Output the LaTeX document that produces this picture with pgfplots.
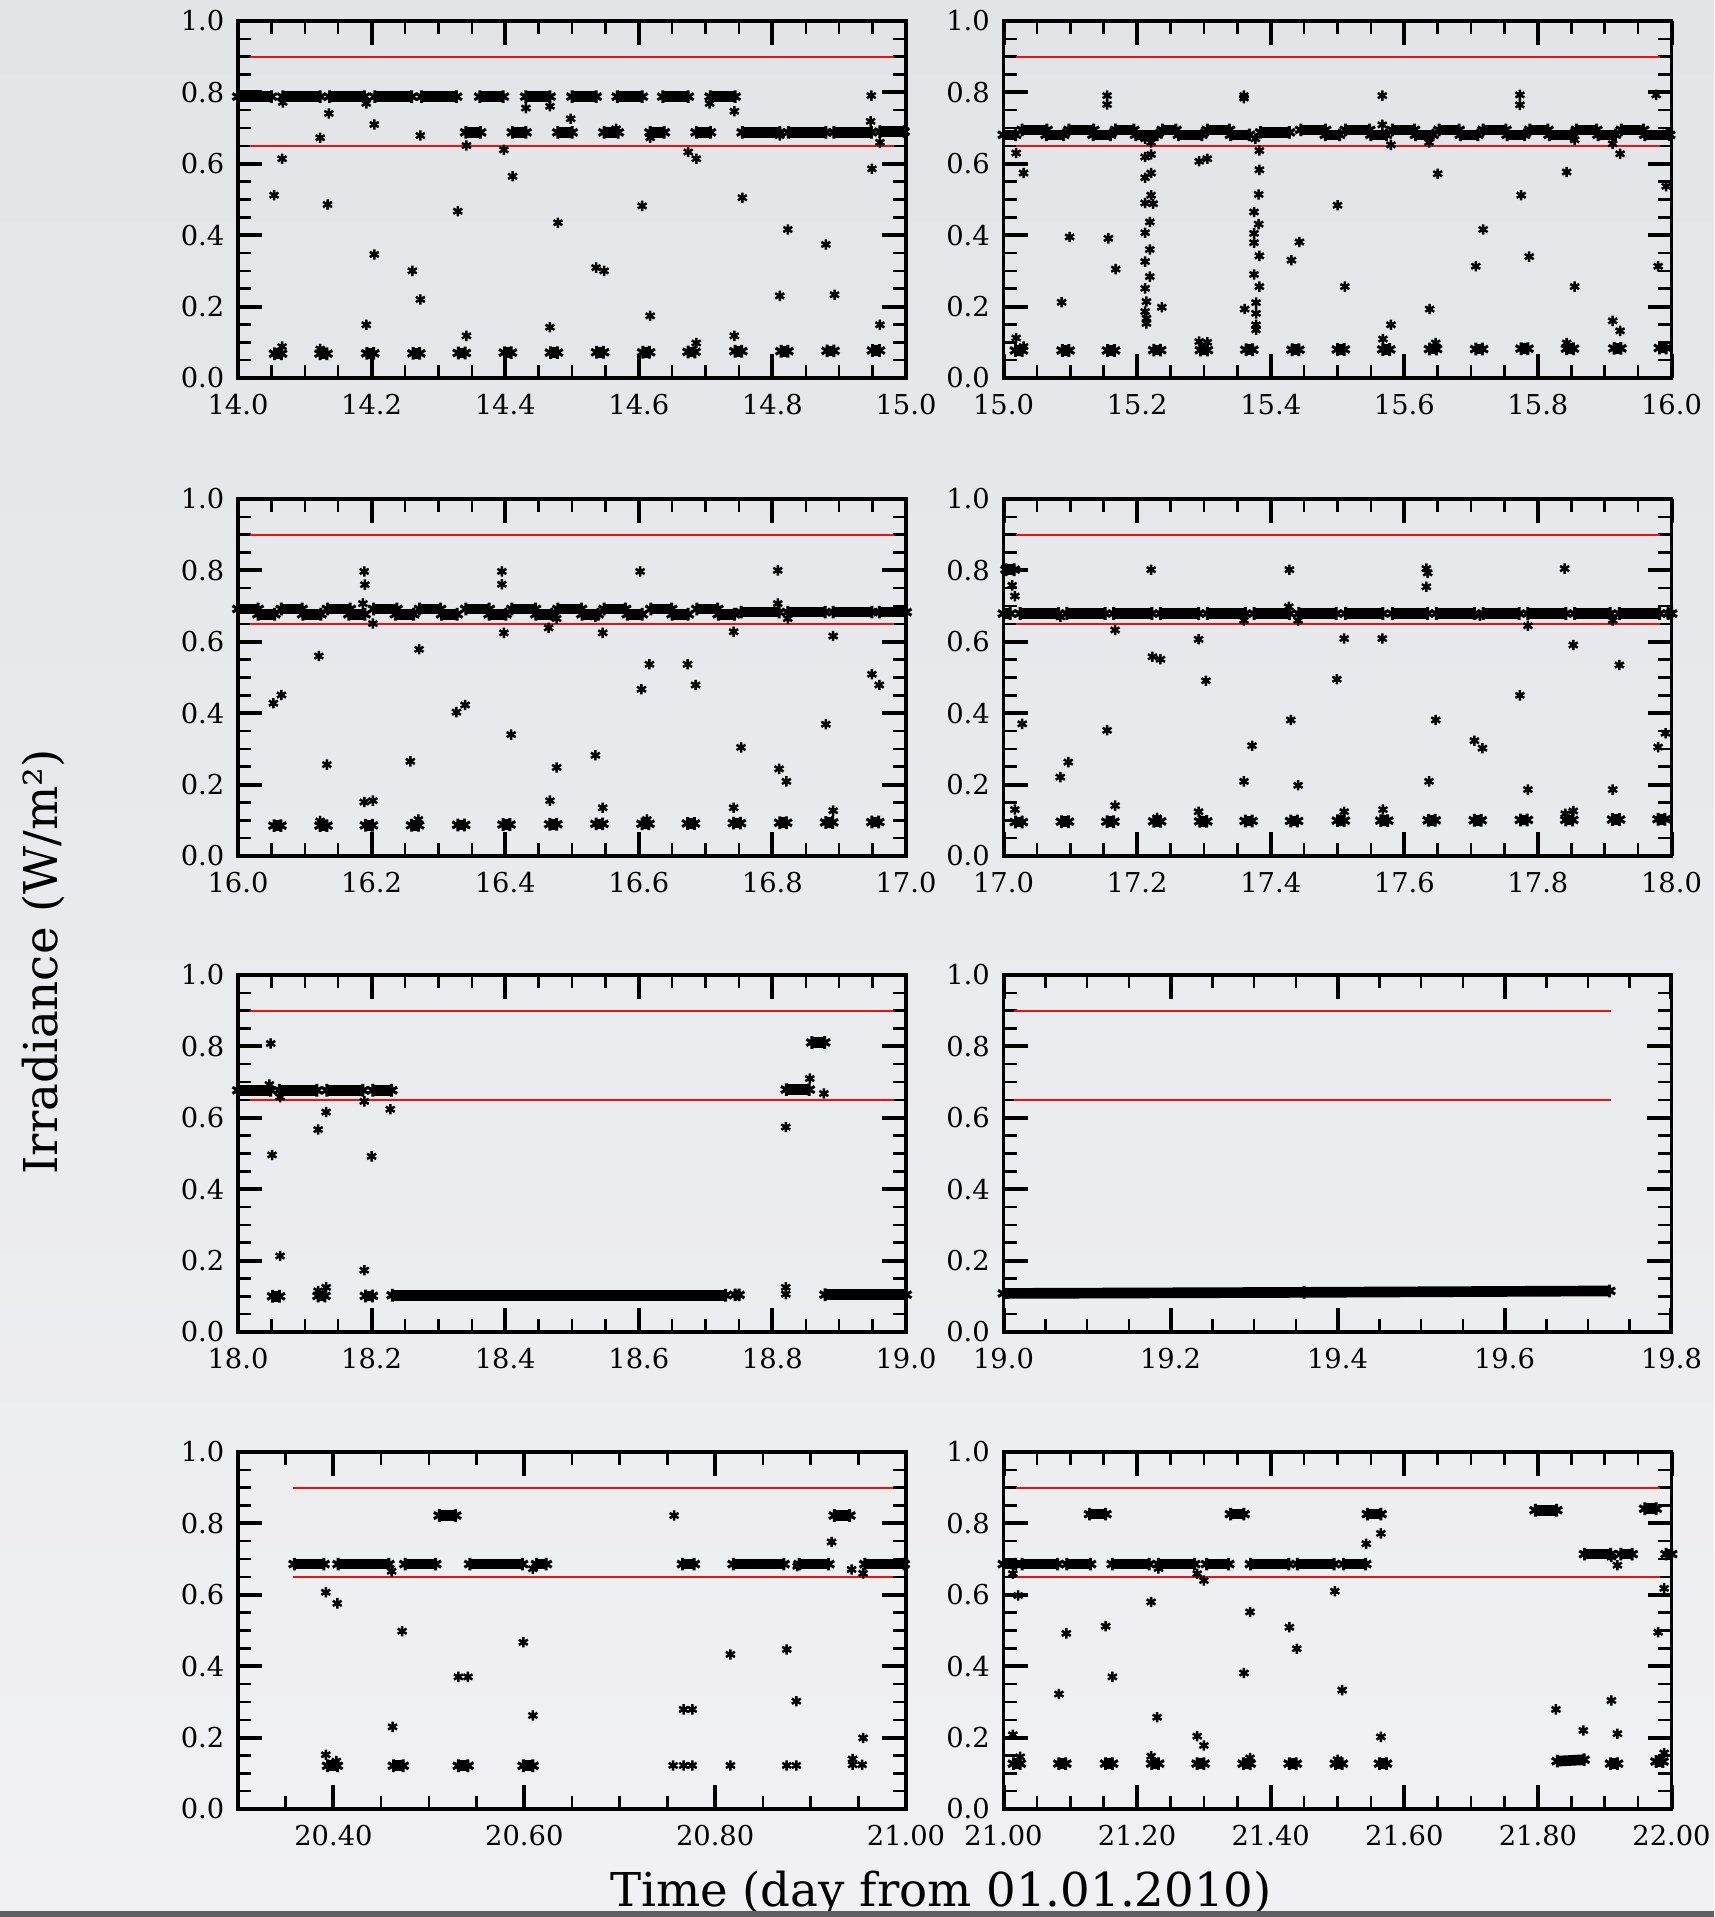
\documentclass[border=0pt]{standalone}
\usepackage{fontspec}
\setmainfont{DejaVu Serif}
\usepackage{pgfplots}
\pgfplotsset{compat=1.18}
\definecolor{bgtop}{RGB}{226,228,232}
\definecolor{bgbot}{RGB}{241,241,243}
\definecolor{redline}{RGB}{232,18,18}
\definecolor{barc}{RGB}{95,95,95}
\pgfplotsset{
  panel/.style={
    scale only axis, width=200.4pt, height=107.1pt, anchor=south west,
    ymin=0, ymax=1, ytick={0,0.2,0.4,0.6,0.8,1}, minor y tick num=3,
    tick pos=both, tick align=inside,
    axis line style={line width=1.15pt},
    major tick length=7.2pt, minor tick length=4.0pt,
    every major tick/.append style={line width=1.2pt, black},
    every minor tick/.append style={line width=0.75pt, black},
    ticklabel style={font=\fontsize{8.2}{9}\selectfont},
    xticklabel style={yshift=-1.2pt},
    yticklabel style={xshift=-0.6pt},
    /pgf/number format/assume math mode=true,
    yticklabel style={/pgf/number format/fixed, /pgf/number format/fixed zerofill, /pgf/number format/precision=1},
    clip=false, unbounded coords=jump,
  },
  xp1/.style={xticklabel style={/pgf/number format/fixed, /pgf/number format/fixed zerofill, /pgf/number format/precision=1}},
  xp2/.style={xticklabel style={/pgf/number format/fixed, /pgf/number format/fixed zerofill, /pgf/number format/precision=2}},
  band/.style={black, solid, line width=3.2pt, mark=asterisk, mark size=1.9pt, mark options={line width=0.9pt, solid}},
  pts/.style={only marks, black, mark=asterisk, mark size=1.55pt, mark options={line width=0.75pt, solid}},
  lim/.style={redline, line width=0.6pt, no marks},
}
\begin{document}
\begin{tikzpicture}
\useasboundingbox (0,0) rectangle (514.2pt,575.1pt);
\shade[top color=bgtop, bottom color=bgbot] (0,0) rectangle (514.2pt,575.1pt);

% ---------------- Panel 1 ----------------
\begin{axis}[panel, xp1, at={(71.4pt,461.7pt)}, xmin=14, xmax=15, xtick={14,14.2,14.4,14.6,14.8,15}, minor x tick num=3]
\addplot[lim] coordinates {(14.018,0.9)(14.982,0.9)};
\addplot[lim] coordinates {(14.018,0.65)(14.982,0.65)};
\addplot[band] coordinates {(14.0,0.788)(14.050,0.788)(14.06,nan)(14.067,0.788)(14.123,0.788)(14.13,nan)(14.137,0.788)(14.189,0.788)(14.2,nan)(14.205,0.788)(14.260,0.788)(14.27,nan)(14.275,0.788)(14.327,0.788)(14.34,nan)(14.362,0.788)(14.397,0.788)(14.41,nan)(14.431,0.788)(14.467,0.788)(14.48,nan)(14.500,0.788)(14.536,0.788)(14.55,nan)(14.568,0.788)(14.605,0.788)(14.62,nan)(14.636,0.788)(14.674,0.788)(14.69,nan)(14.707,0.788)(14.744,0.788)};
\addplot[band] coordinates {(14.341,0.688)(14.363,0.688)(14.38,nan)(14.411,0.688)(14.431,0.688)(14.45,nan)(14.479,0.688)(14.500,0.688)(14.52,nan)(14.548,0.688)(14.569,0.688)(14.59,nan)(14.617,0.688)(14.638,0.688)(14.66,nan)(14.686,0.688)(14.707,0.688)(14.73,nan)(14.755,0.688)(14.811,0.688)(14.815,nan)(14.824,0.688)(14.880,0.688)(14.885,nan)(14.892,0.688)(14.948,0.688)(14.955,nan)(14.961,0.690)(14.997,0.690)};
\addplot[band] coordinates {(14.055,0.068)(14.065,0.068)(14.09,nan)(14.123,0.068)(14.133,0.068)(14.16,nan)(14.193,0.069)(14.203,0.069)(14.23,nan)(14.262,0.069)(14.272,0.069)(14.3,nan)(14.330,0.070)(14.340,0.070)(14.37,nan)(14.399,0.071)(14.409,0.071)(14.44,nan)(14.468,0.071)(14.478,0.071)(14.5,nan)(14.537,0.072)(14.547,0.072)(14.57,nan)(14.606,0.072)(14.616,0.072)(14.64,nan)(14.674,0.073)(14.684,0.073)(14.71,nan)(14.744,0.075)(14.754,0.075)(14.78,nan)(14.813,0.075)(14.823,0.075)(14.85,nan)(14.882,0.076)(14.892,0.076)(14.92,nan)(14.950,0.077)(14.960,0.077)};
\addplot[pts] coordinates {(14.067,0.772)(14.054,0.512)(14.066,0.614)(14.066,0.088)(14.123,0.673)(14.136,0.741)(14.134,0.486)(14.123,0.081)(14.192,0.769)(14.204,0.710)(14.204,0.346)(14.192,0.149)(14.261,0.300)(14.273,0.220)(14.273,0.679)(14.329,0.467)(14.342,0.651)(14.342,0.118)(14.398,0.639)(14.411,0.565)(14.431,0.756)(14.467,0.761)(14.467,0.142)(14.498,0.726)(14.479,0.435)(14.536,0.309)(14.548,0.300)(14.566,0.698)(14.605,0.482)(14.617,0.673)(14.617,0.174)(14.674,0.633)(14.686,0.614)(14.686,0.098)(14.706,0.769)(14.743,0.747)(14.743,0.118)(14.755,0.505)(14.811,0.679)(14.823,0.416)(14.811,0.230)(14.880,0.374)(14.893,0.233)(14.948,0.791)(14.947,0.719)(14.949,0.586)(14.961,0.660)(14.961,0.149)};
\end{axis}

% ---------------- Panel 2 ----------------
\begin{axis}[panel, xp1, at={(301.05pt,461.7pt)}, xmin=15, xmax=16, xtick={15,15.2,15.4,15.6,15.8,16}, minor x tick num=3]
\addplot[lim] coordinates {(15.018,0.9)(15.982,0.9)};
\addplot[lim] coordinates {(15.018,0.65)(15.982,0.65)};
\addplot[band] coordinates {(15.028,0.695)(15.065,0.695)(15.08,nan)(15.098,0.695)(15.135,0.695)(15.15,nan)(15.168,0.695)(15.195,0.695)(15.21,nan)(15.238,0.695)(15.258,0.695)(15.28,nan)(15.305,0.695)(15.338,0.695)(15.4,nan)(15.445,0.695)(15.482,0.695)(15.49,nan)(15.512,0.695)(15.548,0.695)(15.56,nan)(15.582,0.695)(15.615,0.695)(15.63,nan)(15.652,0.695)(15.682,0.695)(15.7,nan)(15.718,0.695)(15.752,0.695)(15.77,nan)(15.788,0.695)(15.815,0.695)(15.83,nan)(15.858,0.695)(15.888,0.695)(15.9,nan)(15.925,0.695)(15.958,0.695)};
\addplot[band] coordinates {(15.0,0.681)(15.018,0.681)(15.04,nan)(15.064,0.681)(15.090,0.681)(15.11,nan)(15.134,0.681)(15.160,0.681)(15.18,nan)(15.198,0.681)(15.230,0.681)(15.24,nan)(15.262,0.681)(15.297,0.681)(15.32,nan)(15.340,0.681)(15.368,0.681)(15.375,nan)(15.385,0.688)(15.428,0.688)(15.45,nan)(15.482,0.681)(15.503,0.681)(15.52,nan)(15.550,0.681)(15.573,0.681)(15.59,nan)(15.617,0.681)(15.643,0.681)(15.66,nan)(15.684,0.681)(15.710,0.681)(15.73,nan)(15.754,0.681)(15.780,0.681)(15.8,nan)(15.817,0.681)(15.850,0.681)(15.87,nan)(15.890,0.681)(15.916,0.681)(15.94,nan)(15.960,0.681)(15.997,0.681)};
\addplot[band] coordinates {(15.018,0.077)(15.028,0.077)(15.05,nan)(15.088,0.077)(15.098,0.077)(15.12,nan)(15.156,0.077)(15.166,0.077)(15.19,nan)(15.225,0.078)(15.235,0.078)(15.26,nan)(15.295,0.078)(15.305,0.078)(15.33,nan)(15.363,0.079)(15.373,0.079)(15.4,nan)(15.432,0.079)(15.442,0.079)(15.47,nan)(15.500,0.080)(15.510,0.080)(15.54,nan)(15.568,0.080)(15.578,0.080)(15.6,nan)(15.638,0.081)(15.648,0.081)(15.67,nan)(15.707,0.081)(15.717,0.081)(15.74,nan)(15.775,0.082)(15.785,0.082)(15.81,nan)(15.843,0.082)(15.853,0.082)(15.88,nan)(15.914,0.083)(15.924,0.083)(15.95,nan)(15.982,0.084)(15.992,0.084)};
\addplot[pts] coordinates {(15.019,0.630)(15.030,0.574)(15.019,0.112)(15.030,0.088)(15.087,0.212)(15.099,0.395)(15.155,0.791)(15.155,0.766)(15.157,0.391)(15.168,0.305)
(15.212,0.670)(15.221,0.660)(15.212,0.619)(15.221,0.626)(15.212,0.561)(15.221,0.574)(15.221,0.512)(15.212,0.490)(15.224,0.488)(15.219,0.437)(15.212,0.407)(15.219,0.360)(15.212,0.326)(15.219,0.284)(15.212,0.251)(15.214,0.214)(15.212,0.186)(15.214,0.167)(15.214,0.153)
(15.237,0.198)(15.293,0.607)(15.305,0.614)(15.293,0.102)(15.305,0.100)(15.360,0.791)(15.360,0.784)
(15.377,0.670)(15.383,0.637)(15.383,0.583)(15.382,0.514)(15.375,0.465)(15.382,0.431)(15.375,0.405)(15.375,0.379)(15.383,0.342)(15.375,0.290)(15.383,0.256)(15.378,0.211)(15.378,0.181)(15.378,0.149)(15.378,0.135)
(15.361,0.193)(15.431,0.330)(15.443,0.381)(15.500,0.484)(15.511,0.256)(15.567,0.791)(15.567,0.709)(15.580,0.653)(15.580,0.149)(15.568,0.109)(15.637,0.660)(15.650,0.572)(15.638,0.193)(15.647,0.098)(15.707,0.313)(15.718,0.416)(15.773,0.793)(15.773,0.765)(15.775,0.512)(15.787,0.340)(15.843,0.577)(15.855,0.256)(15.843,0.098)(15.855,0.667)(15.912,0.160)(15.923,0.132)(15.912,0.656)(15.923,0.628)(15.977,0.793)(15.992,0.537)(15.980,0.313)(15.993,0.686)};
\end{axis}

% ---------------- Panel 3 ----------------
\begin{axis}[panel, xp1, at={(71.4pt,318.3pt)}, xmin=16, xmax=17, xtick={16,16.2,16.4,16.6,16.8,17}, minor x tick num=3]
\addplot[lim] coordinates {(16.018,0.9)(16.982,0.9)};
\addplot[lim] coordinates {(16.018,0.65)(16.982,0.65)};
\addplot[band] coordinates {(16.0,0.692)(16.030,0.692)(16.05,nan)(16.065,0.692)(16.096,0.692)(16.11,nan)(16.134,0.692)(16.168,0.692)(16.18,nan)(16.203,0.692)(16.238,0.692)(16.25,nan)(16.272,0.692)(16.303,0.692)(16.32,nan)(16.341,0.692)(16.376,0.692)(16.39,nan)(16.410,0.692)(16.445,0.692)(16.46,nan)(16.479,0.692)(16.514,0.692)(16.53,nan)(16.548,0.692)(16.580,0.692)(16.6,nan)(16.618,0.692)(16.649,0.692)(16.66,nan)(16.687,0.692)(16.718,0.692)};
\addplot[band] coordinates {(16.030,0.677)(16.055,0.677)(16.08,nan)(16.097,0.677)(16.124,0.677)(16.15,nan)(16.166,0.677)(16.190,0.677)(16.21,nan)(16.236,0.677)(16.263,0.677)(16.28,nan)(16.305,0.677)(16.328,0.677)(16.35,nan)(16.376,0.677)(16.401,0.677)(16.42,nan)(16.446,0.677)(16.470,0.677)(16.49,nan)(16.515,0.677)(16.539,0.677)(16.56,nan)(16.583,0.677)(16.605,0.677)(16.63,nan)(16.650,0.677)(16.674,0.677)(16.7,nan)(16.719,0.677)(16.743,0.677)(16.748,nan)(16.753,0.683)(16.810,0.683)(16.815,nan)(16.823,0.683)(16.879,0.683)(16.885,nan)(16.891,0.683)(16.949,0.683)(16.955,nan)(16.960,0.683)(17.0,0.683)};
\addplot[band] coordinates {(16.054,0.085)(16.064,0.085)(16.09,nan)(16.123,0.085)(16.133,0.085)(16.16,nan)(16.191,0.086)(16.201,0.086)(16.23,nan)(16.260,0.086)(16.270,0.086)(16.3,nan)(16.329,0.087)(16.339,0.087)(16.37,nan)(16.397,0.088)(16.407,0.088)(16.44,nan)(16.467,0.089)(16.477,0.089)(16.5,nan)(16.536,0.090)(16.546,0.090)(16.58,nan)(16.605,0.090)(16.615,0.090)(16.64,nan)(16.673,0.091)(16.683,0.091)(16.71,nan)(16.742,0.092)(16.752,0.092)(16.78,nan)(16.811,0.093)(16.821,0.093)(16.85,nan)(16.880,0.094)(16.890,0.094)(16.92,nan)(16.949,0.095)(16.959,0.095)};
\addplot[pts] coordinates {(16.053,0.428)(16.065,0.451)(16.121,0.560)(16.133,0.256)(16.123,0.098)(16.189,0.797)(16.190,0.760)(16.187,0.707)(16.202,0.651)(16.189,0.151)(16.202,0.155)(16.271,0.579)(16.258,0.265)(16.270,0.102)(16.327,0.403)(16.340,0.423)(16.395,0.797)(16.395,0.761)(16.398,0.625)(16.409,0.340)(16.465,0.639)(16.477,0.665)(16.467,0.155)(16.477,0.248)(16.535,0.282)(16.546,0.625)(16.546,0.135)(16.535,0.670)(16.602,0.797)(16.604,0.467)(16.616,0.537)(16.612,0.102)(16.673,0.537)(16.685,0.479)(16.742,0.628)(16.753,0.304)(16.742,0.135)(16.808,0.800)(16.808,0.707)(16.810,0.244)(16.821,0.209)(16.823,0.665)(16.880,0.369)(16.891,0.616)(16.891,0.127)(16.949,0.509)(16.960,0.479)};
\end{axis}

% ---------------- Panel 4 ----------------
\begin{axis}[panel, xp1, at={(301.05pt,318.3pt)}, xmin=17, xmax=18, xtick={17,17.2,17.4,17.6,17.8,18}, minor x tick num=3]
\addplot[lim] coordinates {(17.018,0.9)(17.982,0.9)};
\addplot[lim] coordinates {(17.018,0.65)(17.982,0.65)};
\addplot[band] coordinates {(17.0,0.679)(17.010,0.679)(17.02,nan)(17.025,0.679)(17.082,0.679)(17.09,nan)(17.095,0.679)(17.152,0.679)(17.16,nan)(17.165,0.679)(17.222,0.679)(17.23,nan)(17.235,0.679)(17.292,0.679)(17.3,nan)(17.305,0.679)(17.362,0.679)(17.37,nan)(17.375,0.679)(17.428,0.679)(17.435,nan)(17.442,0.679)(17.498,0.679)(17.505,nan)(17.512,0.679)(17.568,0.679)(17.575,nan)(17.582,0.679)(17.635,0.679)(17.64,nan)(17.648,0.679)(17.705,0.679)(17.71,nan)(17.718,0.679)(17.772,0.679)(17.78,nan)(17.785,0.679)(17.842,0.679)(17.85,nan)(17.855,0.679)(17.908,0.679)(17.915,nan)(17.922,0.679)(17.982,0.679)(17.99,nan)(17.995,0.679)(18.0,0.679)};
\addplot[band] coordinates {(17.004,0.802)(17.016,0.802)};
\addplot[band] coordinates {(17.018,0.095)(17.028,0.095)(17.05,nan)(17.087,0.096)(17.097,0.096)(17.12,nan)(17.155,0.096)(17.165,0.096)(17.19,nan)(17.225,0.097)(17.235,0.097)(17.26,nan)(17.294,0.097)(17.304,0.097)(17.33,nan)(17.362,0.098)(17.372,0.098)(17.4,nan)(17.430,0.098)(17.440,0.098)(17.47,nan)(17.500,0.099)(17.510,0.099)(17.54,nan)(17.565,0.099)(17.575,0.099)(17.6,nan)(17.636,0.100)(17.646,0.100)(17.67,nan)(17.705,0.100)(17.715,0.100)(17.74,nan)(17.774,0.101)(17.784,0.101)(17.81,nan)(17.842,0.101)(17.852,0.101)(17.88,nan)(17.912,0.102)(17.922,0.102)(17.95,nan)(17.980,0.103)(17.990,0.103)};
\addplot[pts] coordinates {(17.013,0.758)(17.017,0.728)(17.028,0.370)(17.017,0.130)(17.085,0.221)(17.097,0.263)(17.085,0.670)(17.155,0.352)(17.167,0.633)(17.167,0.141)(17.221,0.802)(17.223,0.558)(17.235,0.551)(17.230,0.107)(17.292,0.607)(17.303,0.491)(17.292,0.124)(17.360,0.209)(17.372,0.309)(17.360,0.660)(17.428,0.802)(17.427,0.698)(17.430,0.381)(17.441,0.198)(17.441,0.660)(17.499,0.495)(17.510,0.609)(17.510,0.124)(17.567,0.609)(17.568,0.130)(17.633,0.805)(17.635,0.793)(17.633,0.754)(17.637,0.209)(17.647,0.381)(17.705,0.323)(17.717,0.302)(17.713,0.673)(17.773,0.450)(17.785,0.186)(17.785,0.645)(17.840,0.805)(17.853,0.591)(17.841,0.118)(17.853,0.126)(17.912,0.186)(17.922,0.535)(17.912,0.660)(17.980,0.305)(17.991,0.344)};
\end{axis}

% ---------------- Panel 5 ----------------
\begin{axis}[panel, xp1, at={(71.4pt,175.5pt)}, xmin=18, xmax=19, xtick={18,18.2,18.4,18.6,18.8,19}, minor x tick num=3]
\addplot[lim] coordinates {(18.018,0.9)(18.982,0.9)};
\addplot[lim] coordinates {(18.018,0.65)(18.982,0.65)};
\addplot[band] coordinates {(18.0,0.677)(18.049,0.677)(18.055,nan)(18.062,0.677)(18.118,0.677)(18.125,nan)(18.133,0.677)(18.187,0.677)(18.195,nan)(18.202,0.677)(18.230,0.677)(18.5,nan)(18.821,0.679)(18.855,0.679)};
\addplot[band] coordinates {(18.859,0.811)(18.878,0.811)};
\addplot[band] coordinates {(18.231,0.103)(18.730,0.103)(18.74,nan)(18.744,0.104)(18.750,0.104)(18.8,nan)(18.879,0.1045)(19.0,0.1045)};
\addplot[band] coordinates {(18.052,0.100)(18.062,0.100)(18.09,nan)(18.120,0.101)(18.130,0.101)(18.16,nan)(18.191,0.101)(18.201,0.101)};
\addplot[pts] coordinates {(18.049,0.808)(18.047,0.693)(18.051,0.496)(18.063,0.213)(18.063,0.658)(18.120,0.567)(18.132,0.616)(18.120,0.115)(18.132,0.125)(18.189,0.646)(18.200,0.492)(18.189,0.173)(18.228,0.624)(18.820,0.574)(18.820,0.125)(18.820,0.106)(18.856,0.710)(18.877,0.668)};
\end{axis}

% ---------------- Panel 6 ----------------
\begin{axis}[panel, xp1, at={(301.05pt,175.5pt)}, xmin=19, xmax=19.8, xtick={19,19.2,19.4,19.6,19.8}, minor x tick num=3]
\addplot[lim] coordinates {(19.013,0.9)(19.728,0.9)};
\addplot[lim] coordinates {(19.013,0.65)(19.728,0.65)};
\addplot[band] coordinates {(19.0,0.108)(19.36,0.111)(19.726,0.115)};
\end{axis}

% ---------------- Panel 7 ----------------
\begin{axis}[panel, xp2, at={(71.4pt,32.4pt)}, xmin=20.3, xmax=21, xtick={20.4,20.6,20.8,21}, minor xtick={20.35,20.45,20.5,20.55,20.65,20.7,20.75,20.85,20.9,20.95}]
\addplot[lim] coordinates {(20.358,0.9)(20.986,0.9)};
\addplot[lim] coordinates {(20.358,0.65)(20.986,0.65)};
\addplot[band] coordinates {(20.359,0.686)(20.390,0.686)(20.398,nan)(20.405,0.686)(20.458,0.686)(20.465,nan)(20.475,0.686)(20.507,0.686)(20.52,nan)(20.543,0.686)(20.598,0.686)(20.605,nan)(20.613,0.686)(20.623,0.686)(20.7,nan)(20.766,0.686)(20.778,0.686)(20.8,nan)(20.819,0.686)(20.872,0.686)(20.88,nan)(20.888,0.686)(20.919,0.686)(20.94,nan)(20.957,0.686)(20.998,0.686)};
\addplot[band] coordinates {(20.511,0.822)(20.528,0.822)(20.7,nan)(20.925,0.822)(20.941,0.822)};
\addplot[band] coordinates {(20.394,0.121)(20.404,0.121)(20.43,nan)(20.463,0.121)(20.473,0.121)(20.5,nan)(20.531,0.121)(20.541,0.121)(20.57,nan)(20.599,0.121)(20.609,0.121)};
\addplot[pts] coordinates {(20.392,0.607)(20.404,0.576)(20.392,0.152)(20.403,0.134)(20.461,0.666)(20.472,0.498)(20.462,0.230)(20.531,0.370)(20.541,0.370)(20.599,0.467)(20.609,0.262)(20.609,0.673)(20.757,0.822)(20.767,0.279)(20.776,0.279)(20.756,0.122)(20.767,0.122)(20.776,0.122)(20.816,0.433)(20.816,0.122)(20.875,0.447)(20.885,0.302)(20.875,0.122)(20.885,0.122)(20.886,0.680)(20.922,0.748)(20.943,0.671)(20.955,0.660)(20.955,0.199)(20.944,0.140)(20.944,0.124)(20.954,0.124)};
\end{axis}

% ---------------- Panel 8 ----------------
\begin{axis}[panel, xp2, at={(301.05pt,32.4pt)}, xmin=21, xmax=22, xtick={21,21.2,21.4,21.6,21.8,22}, minor x tick num=3]
\addplot[lim] coordinates {(21.018,0.9)(21.982,0.9)};
\addplot[lim] coordinates {(21.018,0.65)(21.982,0.65)};
\addplot[band] coordinates {(21.0,0.686)(21.018,0.686)(21.023,nan)(21.028,0.686)(21.081,0.686)(21.088,nan)(21.095,0.686)(21.130,0.686)(21.15,nan)(21.163,0.686)(21.218,0.686)(21.225,nan)(21.232,0.686)(21.286,0.686)(21.295,nan)(21.304,0.686)(21.337,0.686)(21.35,nan)(21.370,0.686)(21.427,0.686)(21.433,nan)(21.440,0.686)(21.495,0.686)(21.5,nan)(21.509,0.686)(21.542,0.686)};
\addplot[band] coordinates {(21.129,0.826)(21.153,0.826)(21.2,nan)(21.340,0.826)(21.360,0.826)(21.45,nan)(21.545,0.826)(21.565,0.826)(21.7,nan)(21.796,0.837)(21.828,0.837)(21.9,nan)(21.960,0.841)(21.977,0.841)};
\addplot[band] coordinates {(21.870,0.714)(21.909,0.714)(21.915,nan)(21.924,0.714)(21.941,0.714)(21.96,nan)(21.992,0.714)(22.0,0.714)};
\addplot[band] coordinates {(21.829,0.134)(21.869,0.138)};
\addplot[band] coordinates {(21.015,0.127)(21.025,0.127)(21.05,nan)(21.083,0.127)(21.093,0.127)(21.12,nan)(21.153,0.127)(21.163,0.127)(21.19,nan)(21.222,0.127)(21.232,0.127)(21.26,nan)(21.290,0.127)(21.300,0.127)(21.33,nan)(21.359,0.127)(21.369,0.127)(21.4,nan)(21.428,0.127)(21.438,0.127)(21.47,nan)(21.497,0.127)(21.507,0.127)(21.53,nan)(21.563,0.127)(21.573,0.127)(21.7,nan)(21.909,0.127)(21.919,0.127)(21.95,nan)(21.977,0.133)(21.987,0.133)};
\addplot[pts] coordinates {(21.014,0.659)(21.022,0.598)(21.014,0.208)(21.025,0.146)(21.083,0.322)(21.094,0.492)(21.153,0.512)(21.163,0.370)(21.221,0.580)(21.230,0.257)(21.221,0.148)(21.232,0.674)(21.290,0.204)(21.300,0.178)(21.290,0.659)(21.300,0.640)(21.360,0.381)(21.369,0.552)(21.369,0.143)(21.428,0.509)(21.439,0.449)(21.496,0.610)(21.507,0.333)(21.500,0.138)(21.543,0.743)(21.565,0.772)(21.565,0.202)(21.827,0.279)(21.868,0.220)(21.910,0.304)(21.919,0.211)(21.910,0.706)(21.919,0.683)(21.980,0.495)(21.989,0.618)(21.989,0.157)};
\end{axis}

\node[rotate=90, font=\fontsize{14}{16}\selectfont] at (12.9pt,286.5pt) {Irradiance (W/m²)};
\node[anchor=base, font=\fontsize{14}{16}\selectfont] at (282.3pt,3pt) {Time (day from 01.01.2010)};
\fill[barc] (0,0) rectangle (514.2pt,1.8pt);
\end{tikzpicture}
\end{document}
